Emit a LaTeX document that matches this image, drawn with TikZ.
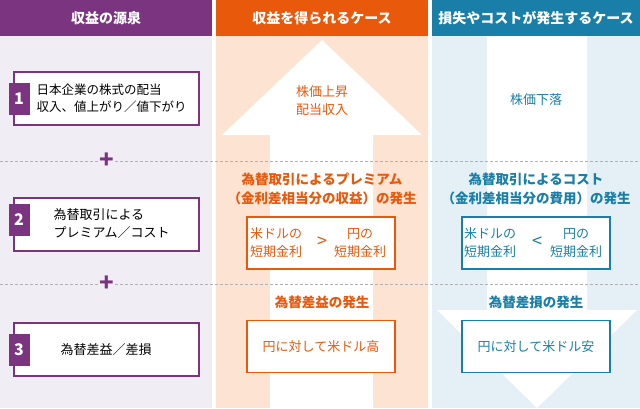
\documentclass[tikz,border=0pt]{standalone}
\usepackage{fontspec}
\setmainfont{Noto Sans CJK JP}
\usetikzlibrary{positioning}
\definecolor{purp}{HTML}{7B3580}
\definecolor{purpbg}{HTML}{F1EDF4}
\definecolor{orng}{HTML}{E8590C}
\definecolor{orngbg}{HTML}{FDE3D2}
\definecolor{blu}{HTML}{1A7FA8}
\definecolor{blubg}{HTML}{E5EFF6}
\tikzset{
  head/.style={text=white, font=\bfseries\fontsize{14}{16}\selectfont},
  srcbox/.style={draw=purp, line width=2pt, fill=white, minimum width=185pt, minimum height=53pt},
  numbox/.style={fill=purp, text=white, font=\bfseries\fontsize{16}{16}\selectfont, minimum width=21pt, minimum height=32pt, inner sep=0pt},
  gainbox/.style={draw=orng, line width=1.6pt, fill=white, minimum width=148pt, minimum height=52pt, text=orng},
  lossbox/.style={draw=blu, line width=1.6pt, fill=white, minimum width=148pt, minimum height=52pt, text=blu},
  txt/.style={font=\fontsize{13}{18}\selectfont, align=center},
  ttl/.style={font=\bfseries\fontsize{13.5}{19}\selectfont, align=center},
  plus/.style={text=purp, font=\bfseries\fontsize{24}{24}\selectfont, fill=purpbg, inner sep=0pt}
}
\begin{document}
\begin{tikzpicture}[x=1pt, y=-1pt]
  \useasboundingbox (0,0) rectangle (640,408);
  % columns
  \fill[purpbg] (0,36) rectangle (212,408);
  \fill[orngbg] (216,36) rectangle (428,408);
  \fill[blubg] (432,36) rectangle (640,408);
  \fill[purp] (0,0) rectangle (212,36);
  \fill[orng] (216,0) rectangle (428,36);
  \fill[blu] (432,0) rectangle (640,36);
  \node[head] (h1) at (106,18) {収益の源泉};
  \node[head] (h2) at (322,18) {収益を得られるケース};
  \node[head] (h3) at (536,18) {損失やコストが発生するケース};
  % arrows
  \fill[white] (270,408) -- (270,135) -- (222,135) -- (322,40) -- (422,135) -- (373,135) -- (373,408) -- cycle;
  \fill[white] (487,36) -- (487,310) -- (437,310) -- (537,408) -- (637,310) -- (587,310) -- (587,36) -- cycle;
  % separators
  \draw[gray!60, densely dashed, line width=0.5pt] (0,161) -- (640,161);
  \draw[gray!60, densely dashed, line width=0.5pt] (0,284) -- (640,284);
  \node[plus] (p1) at (107,161) {+};
  \node[plus] (p2) at (107,284) {+};
  % source column
  \node[srcbox] (s1) at (106,98.5) {};
  \node[txt, align=left, anchor=west, font=\fontsize{12.5}{17}\selectfont] at (33,98.5) {日本企業の株式の配当\\収入、値上がり／値下がり};
  \node[numbox] (n1) at (19,99) {1};
  \node[srcbox] (s2) at (106,224) {};
  \node[txt, align=left, anchor=west] at (50,224) {為替取引による\\プレミアム／コスト};
  \node[numbox] (n2) at (19,220) {2};
  \node[srcbox, txt] (s3) at (106,349.5) {為替差益／差損};
  \node[numbox] (n3) at (19,350) {3};
  % gain column
  \node[txt, text=orng] (g1) at (322,101) {株価上昇\\配当収入};
  \node[ttl, text=orng] (g2t) at (322,189) {為替取引によるプレミアム\\（金利差相当分の収益）の発生};
  \node[gainbox] (g2) at (321,243) {};
  \node[txt, text=orng] at (276,243) {米ドルの\\短期金利};
  \node[txt, text=orng, font=\fontsize{18}{18}\selectfont] at (322,242) {>};
  \node[txt, text=orng] at (360,243) {円の\\短期金利};
  \node[ttl, text=orng] (g3t) at (322,302) {為替差益の発生};
  \node[gainbox, txt] (g3) at (321,346.5) {円に対して米ドル高};
  % loss column
  \node[txt, text=blu] (l1) at (536,100) {株価下落};
  \node[ttl, text=blu] (l2t) at (536,189) {為替取引によるコスト\\（金利差相当分の費用）の発生};
  \node[lossbox] (l2) at (536,243) {};
  \node[txt, text=blu] at (490,243) {米ドルの\\短期金利};
  \node[txt, text=blu, font=\fontsize{18}{18}\selectfont] at (537,242) {<};
  \node[txt, text=blu] at (576,243) {円の\\短期金利};
  \node[ttl, text=blu] (l3t) at (536,302) {為替差損の発生};
  \node[lossbox, txt] (l3) at (536,346.5) {円に対して米ドル安};
\end{tikzpicture}
\end{document}
